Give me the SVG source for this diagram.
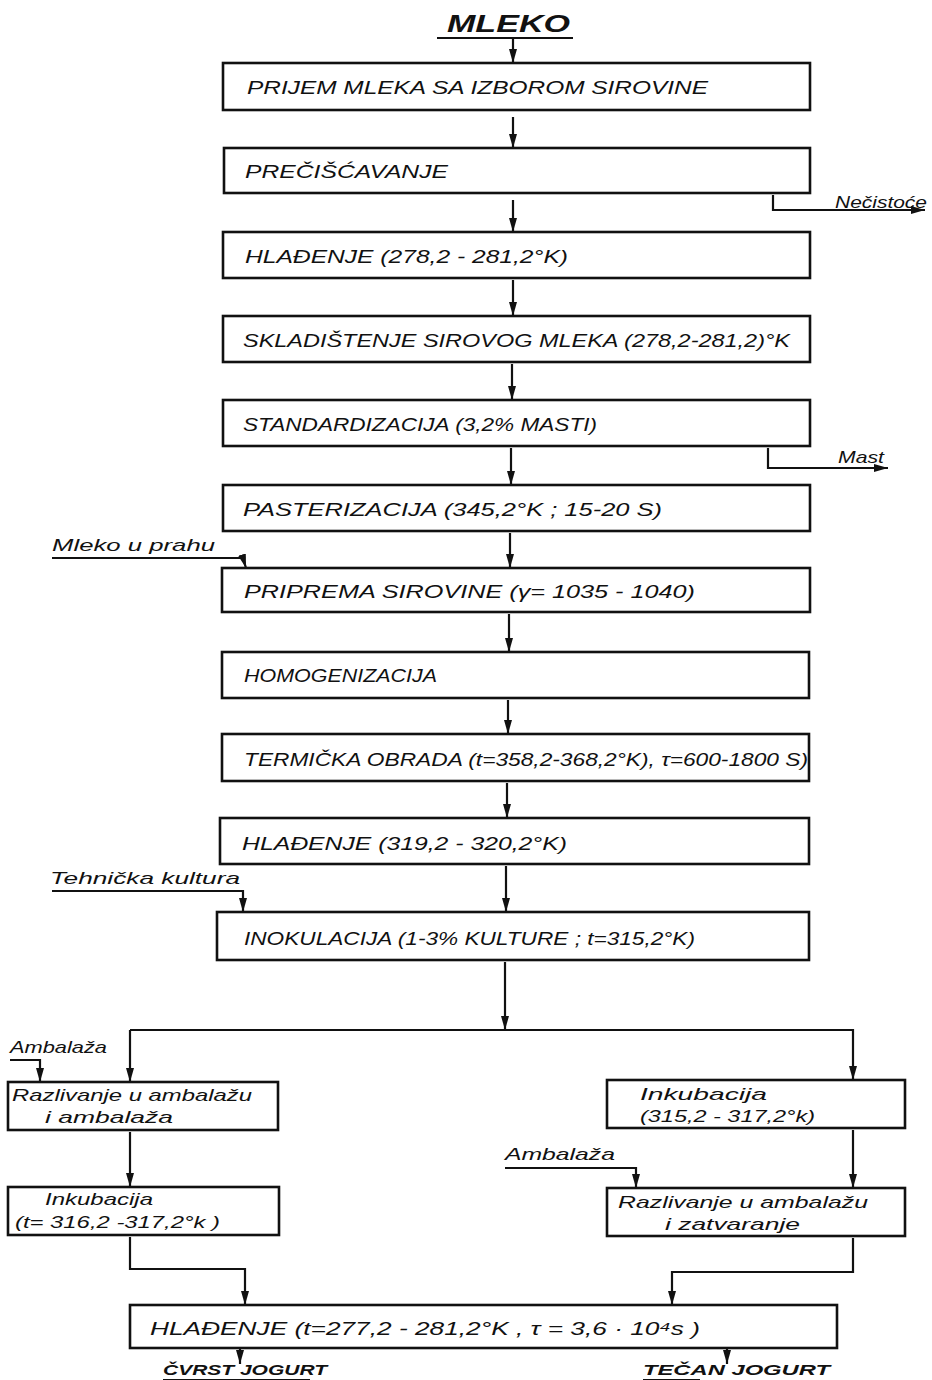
<svg xmlns="http://www.w3.org/2000/svg" width="932" height="1380" viewBox="0 0 932 1380">
<style>
.box{fill:#fff;stroke:#111;stroke-width:2.6}
.ln{fill:none;stroke:#111;stroke-width:2.2}
.t{font-family:"Liberation Sans",Arial,sans-serif;font-style:italic;font-size:18px;fill:#111}
.s{font-family:"Liberation Sans",Arial,sans-serif;font-style:italic;font-size:17px;fill:#111}
.h{font-family:"Liberation Sans",Arial,sans-serif;font-style:italic;font-weight:bold;fill:#111}
</style>
<defs>
<marker id="ar" viewBox="0 0 14 8" refX="14" refY="4" markerWidth="14" markerHeight="8" markerUnits="userSpaceOnUse" orient="auto">
<path d="M0,0 L14,4 L0,8 z" fill="#111"/>
</marker>
</defs>
<rect width="932" height="1380" fill="#fff"/>

<g id="title">
<text class="h" x="447" y="32" font-size="24" textLength="123" lengthAdjust="spacingAndGlyphs">MLEKO</text>
<line class="ln" x1="437" y1="38" x2="573" y2="38"/>
</g>

<g id="connectors">
<line class="ln" x1="513" y1="38" x2="513" y2="63" marker-end="url(#ar)"/>
<line class="ln" x1="513" y1="117" x2="513" y2="148" marker-end="url(#ar)"/>
<line class="ln" x1="513" y1="200" x2="513" y2="232" marker-end="url(#ar)"/>
<line class="ln" x1="513" y1="280" x2="513" y2="316" marker-end="url(#ar)"/>
<line class="ln" x1="512" y1="364" x2="512" y2="400" marker-end="url(#ar)"/>
<line class="ln" x1="511" y1="448" x2="511" y2="485" marker-end="url(#ar)"/>
<line class="ln" x1="510" y1="533" x2="510" y2="568" marker-end="url(#ar)"/>
<line class="ln" x1="509" y1="614" x2="509" y2="652" marker-end="url(#ar)"/>
<line class="ln" x1="508" y1="700" x2="508" y2="734" marker-end="url(#ar)"/>
<line class="ln" x1="507" y1="783" x2="507" y2="818" marker-end="url(#ar)"/>
<line class="ln" x1="506" y1="866" x2="506" y2="912" marker-end="url(#ar)"/>
<line class="ln" x1="505" y1="962" x2="505" y2="1030" marker-end="url(#ar)"/>
<polyline class="ln" points="130,1030 853,1030 853,1080" marker-end="url(#ar)"/>
<line class="ln" x1="130" y1="1030" x2="130" y2="1082" marker-end="url(#ar)"/>
<line class="ln" x1="130" y1="1132" x2="130" y2="1187" marker-end="url(#ar)"/>
<polyline class="ln" points="130,1237 130,1269 245,1269 245,1305" marker-end="url(#ar)"/>
<line class="ln" x1="853" y1="1130" x2="853" y2="1188" marker-end="url(#ar)"/>
<polyline class="ln" points="853,1238 853,1272 672,1272 672,1305" marker-end="url(#ar)"/>
<polyline class="ln" points="773,195 773,210 925,210" marker-end="url(#ar)"/>
<polyline class="ln" points="768,448 768,468 888,468" marker-end="url(#ar)"/>
<polyline class="ln" points="52,558 243,558 246,568" marker-end="url(#ar)"/>
<polyline class="ln" points="52,891 243,891 243,912" marker-end="url(#ar)"/>
<polyline class="ln" points="10,1060 40,1060 40,1082" marker-end="url(#ar)"/>
<polyline class="ln" points="505,1168 636,1168 636,1188" marker-end="url(#ar)"/>
<line class="ln" x1="240" y1="1348" x2="240" y2="1364" marker-end="url(#ar)"/>
<line class="ln" x1="727" y1="1348" x2="727" y2="1364" marker-end="url(#ar)"/>
</g>

<g id="n1"><rect class="box" x="223" y="63" width="587" height="47"/>
<text class="t" x="247" y="94" textLength="461" lengthAdjust="spacingAndGlyphs">PRIJEM MLEKA SA IZBOROM SIROVINE</text></g>
<g id="n2"><rect class="box" x="224" y="148" width="586" height="45"/>
<text class="t" x="245" y="178" textLength="203" lengthAdjust="spacingAndGlyphs">PREČIŠĆAVANJE</text></g>
<g id="n3"><rect class="box" x="223" y="232" width="587" height="46"/>
<text class="t" x="245" y="263" textLength="323" lengthAdjust="spacingAndGlyphs">HLAĐENJE (278,2 - 281,2°K)</text></g>
<g id="n4"><rect class="box" x="223" y="316" width="587" height="46"/>
<text class="t" x="243" y="347" textLength="547" lengthAdjust="spacingAndGlyphs">SKLADIŠTENJE SIROVOG MLEKA (278,2-281,2)°K</text></g>
<g id="n5"><rect class="box" x="223" y="400" width="587" height="46"/>
<text class="t" x="243" y="431" textLength="354" lengthAdjust="spacingAndGlyphs">STANDARDIZACIJA (3,2% MASTI)</text></g>
<g id="n6"><rect class="box" x="223" y="485" width="587" height="46"/>
<text class="t" x="243" y="516" textLength="419" lengthAdjust="spacingAndGlyphs">PASTERIZACIJA (345,2°K ; 15-20 S)</text></g>
<g id="n7"><rect class="box" x="222" y="568" width="588" height="44"/>
<text class="t" x="244" y="598" textLength="451" lengthAdjust="spacingAndGlyphs">PRIPREMA SIROVINE (γ= 1035 - 1040)</text></g>
<g id="n8"><rect class="box" x="222" y="652" width="587" height="46"/>
<text class="t" x="244" y="682" textLength="193" lengthAdjust="spacingAndGlyphs">HOMOGENIZACIJA</text></g>
<g id="n9"><rect class="box" x="222" y="734" width="587" height="47"/>
<text class="t" x="244" y="766" textLength="564" lengthAdjust="spacingAndGlyphs">TERMIČKA OBRADA (t=358,2-368,2°K), τ=600-1800 S)</text></g>
<g id="n10"><rect class="box" x="220" y="818" width="589" height="46"/>
<text class="t" x="242" y="850" textLength="325" lengthAdjust="spacingAndGlyphs">HLAĐENJE (319,2 - 320,2°K)</text></g>
<g id="n11"><rect class="box" x="217" y="912" width="592" height="48"/>
<text class="t" x="244" y="945" textLength="451" lengthAdjust="spacingAndGlyphs">INOKULACIJA (1-3% KULTURE ; t=315,2°K)</text></g>

<g id="n12"><rect class="box" x="8" y="1082" width="270" height="48"/>
<text class="s" x="12" y="1101" textLength="240" lengthAdjust="spacingAndGlyphs">Razlivanje u ambalažu</text>
<text class="s" x="45" y="1123" textLength="128" lengthAdjust="spacingAndGlyphs">i ambalaža</text></g>
<g id="n13"><rect class="box" x="8" y="1187" width="271" height="48"/>
<text class="s" x="45" y="1205" textLength="108" lengthAdjust="spacingAndGlyphs">Inkubacija</text>
<text class="s" x="15" y="1228" textLength="205" lengthAdjust="spacingAndGlyphs">(t= 316,2 -317,2°k )</text></g>
<g id="n14"><rect class="box" x="607" y="1080" width="298" height="48"/>
<text class="s" x="640" y="1100" textLength="127" lengthAdjust="spacingAndGlyphs">Inkubacija</text>
<text class="s" x="640" y="1122" textLength="175" lengthAdjust="spacingAndGlyphs">(315,2 - 317,2°k)</text></g>
<g id="n15"><rect class="box" x="607" y="1188" width="298" height="48"/>
<text class="s" x="618" y="1208" textLength="250" lengthAdjust="spacingAndGlyphs">Razlivanje u ambalažu</text>
<text class="s" x="665" y="1230" textLength="135" lengthAdjust="spacingAndGlyphs">i zatvaranje</text></g>
<g id="n16"><rect class="box" x="130" y="1305" width="707" height="43"/>
<text class="t" x="150" y="1335" textLength="550" lengthAdjust="spacingAndGlyphs">HLAĐENJE (t=277,2 - 281,2°K , τ = 3,6 · 10⁴s )</text></g>

<g id="labels">
<text class="s" x="835" y="208" font-size="14" textLength="92" lengthAdjust="spacingAndGlyphs">Nečistoće</text>
<text class="s" x="838" y="463" font-size="15" textLength="46" lengthAdjust="spacingAndGlyphs">Mast</text>
<text class="s" x="52" y="551" font-size="17" textLength="163" lengthAdjust="spacingAndGlyphs">Mleko u prahu</text>
<text class="s" x="50" y="884" font-size="16" textLength="190" lengthAdjust="spacingAndGlyphs">Tehnička kultura</text>
<text class="s" x="10" y="1053" textLength="97" lengthAdjust="spacingAndGlyphs">Ambalaža</text>
<text class="s" x="505" y="1160" textLength="110" lengthAdjust="spacingAndGlyphs">Ambalaža</text>
<text class="h" x="163" y="1375" font-size="15" textLength="164" lengthAdjust="spacingAndGlyphs">ČVRST JOGURT</text>
<line class="ln" x1="163" y1="1380" x2="310" y2="1380"/>
<text class="h" x="643" y="1375" font-size="15" textLength="187" lengthAdjust="spacingAndGlyphs">TEČAN JOGURT</text>
<line class="ln" x1="643" y1="1380" x2="700" y2="1380"/>
</g>
</svg>
